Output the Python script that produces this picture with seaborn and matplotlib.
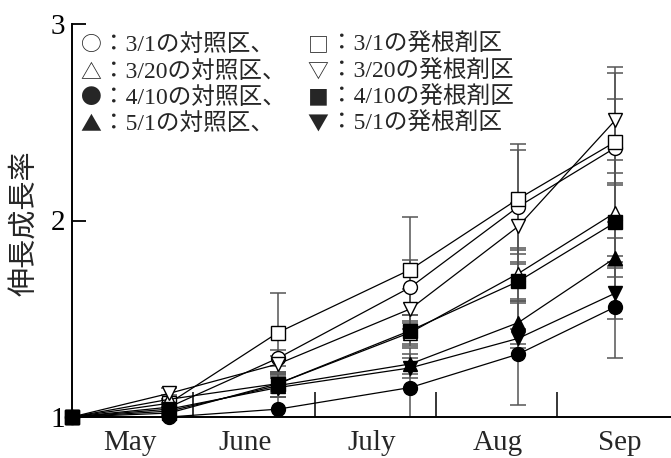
import matplotlib
matplotlib.use("Agg")
import matplotlib.pyplot as plt
import seaborn as sns
import pandas as pd

# Measurement dates, expressed in months after 1 May
dates = [0.0, 0.80, 1.70, 2.79, 3.68, 4.48]
month_labels = ["May", "June", "July", "Aug", "Sep"]
month_centers = [0.48, 1.43, 2.47, 3.51, 4.52]
month_edges = [1, 2, 3, 4]
y_ticks = [1, 2, 3]

# Mean elongation growth ratio for each planting date / treatment
ctrl_0301 = [1.00, 1.05, 1.30, 1.66, 2.07, 2.37]
root_0301 = [1.00, 1.07, 1.43, 1.75, 2.11, 2.40]
ctrl_0320 = [1.00, 1.09, 1.17, 1.43, 1.73, 2.04]
root_0320 = [1.00, 1.12, 1.27, 1.55, 1.97, 2.51]
ctrl_0410 = [1.00, 1.00, 1.04, 1.15, 1.32, 1.56]
root_0410 = [1.00, 1.02, 1.17, 1.44, 1.69, 1.99]
ctrl_0501 = [1.00, 1.03, 1.16, 1.27, 1.48, 1.81]
root_0501 = [1.00, 1.04, 1.15, 1.25, 1.40, 1.63]

# Standard deviations
sd_ctrl_0301 = [0, 0.02, 0.04, 0.14, 0.29, 0.38]
sd_root_0301 = [0, 0.02, 0.20, 0.27, 0.28, 0.22]
sd_ctrl_0320 = [0, 0.02, 0.05, 0.06, 0.13, 0.27]
sd_root_0320 = [0, 0.03, 0.04, 0.10, 0.12, 0.27]
sd_ctrl_0410 = [0, 0.01, 0.06, 0.20, 0.26, 0.26]
sd_root_0410 = [0, 0.02, 0.04, 0.08, 0.10, 0.20]
sd_ctrl_0501 = [0, 0.02, 0.06, 0.05, 0.11, 0.10]
sd_root_0501 = [0, 0.02, 0.05, 0.05, 0.05, 0.13]

# Legend rows (symbol + caption), control on the left, rooting agent on the right
ctrl_symbols = ["○", "△", "●", "▲"]
ctrl_captions = ["：3/1の対照区、", "：3/20の対照区、", "：4/10の対照区、", "：5/1の対照区、"]
root_symbols = ["□", "▽", "■", "▼"]
root_captions = ["：3/1の発根剤区", "：3/20の発根剤区", "：4/10の発根剤区", "：5/1の発根剤区"]

y_label = "伸長成長率"

# (values, sd, marker, filled, marker size)
series = [
    (ctrl_0301, sd_ctrl_0301, "o", False, 10),
    (root_0301, sd_root_0301, "s", False, 9.5),
    (ctrl_0320, sd_ctrl_0320, "^", False, 10.5),
    (root_0320, sd_root_0320, "v", False, 10.5),
    (root_0501, sd_root_0501, "v", True, 10.5),
    (ctrl_0410, sd_ctrl_0410, "o", True, 10),
    (root_0410, sd_root_0410, "s", True, 9.5),
    (ctrl_0501, sd_ctrl_0501, "^", True, 10.5),
]

sns.set_style("ticks")
serif_jp = ["Liberation Serif", "Noto Sans CJK JP"]
plt.rcParams["font.family"] = serif_jp

W, H = 671, 458
fig = plt.figure(figsize=(W / 100, H / 100), dpi=100)
ax = fig.add_axes([72 / W, 41 / H, (W - 72) / W, (417 - 24) / H])

for vals, sd, mk, filled, ms in series:
    df = pd.DataFrame({"date": dates, "ratio": vals})
    ax.errorbar(dates, vals, yerr=sd, fmt="none", ecolor="#555555",
                elinewidth=1.1, capsize=6, capthick=1.1, zorder=2)
    sns.lineplot(data=df, x="date", y="ratio", ax=ax, color="black",
                 linewidth=0.9, marker=mk, markersize=ms,
                 markerfacecolor="black" if filled else "white",
                 markeredgecolor="black", markeredgewidth=1.0,
                 clip_on=False, zorder=3, sort=False)

ax.set_xlim(0, (W - 72) / 121.25)
ax.set_ylim(1, 3)
ax.set_xlabel("")
ax.set_ylabel("")

for side in ("top", "right"):
    ax.spines[side].set_visible(False)
for side in ("left", "bottom"):
    ax.spines[side].set_linewidth(1.4)
    ax.spines[side].set_color("black")

ax.set_yticks(y_ticks)
ax.set_yticklabels([str(t) for t in y_ticks])
ax.tick_params(axis="y", direction="in", length=10, width=1.3,
               labelsize=21, pad=5, colors="black")

ax.set_xticks(month_edges)
ax.set_xticklabels([])
ax.set_xticks(month_centers, minor=True)
ax.set_xticklabels(month_labels, minor=True)
ax.tick_params(axis="x", which="major", direction="in", length=18, width=1.3)
ax.tick_params(axis="x", which="minor", length=0, labelsize=21, pad=9)

# Vertical axis title
fig.text(25 / W, 1 - 223 / H, y_label, family="Noto Sans CJK JP",
         fontsize=21, rotation=90, ha="center", va="center")

# Legend text block in the upper left corner
row_y = [45, 72, 98, 124]
for i, y in enumerate(row_y):
    fy = 1 - y / H
    fig.text(91 / W, fy, ctrl_symbols[i], family="Noto Sans CJK JP",
             fontsize=15, ha="center", va="center")
    fig.text(102 / W, fy, ctrl_captions[i], fontsize=17, ha="left", va="center")
    fig.text(318 / W, fy, root_symbols[i], family="Noto Sans CJK JP",
             fontsize=15, ha="center", va="center")
    fig.text(330 / W, fy, root_captions[i], fontsize=17, ha="left", va="center")

fig.savefig("out.png", dpi=100)
